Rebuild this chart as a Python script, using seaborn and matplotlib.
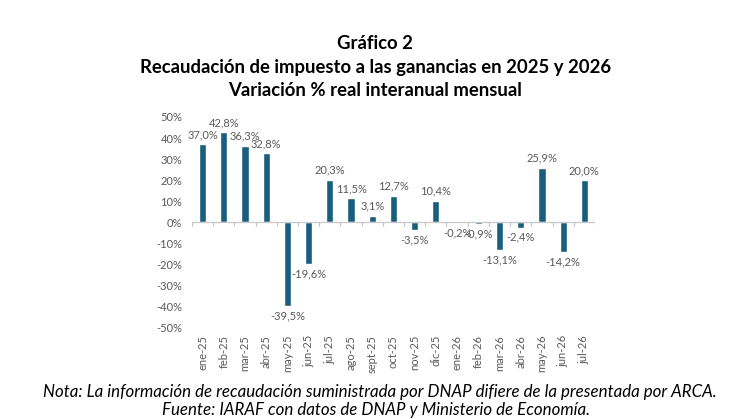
import numpy as np
import pandas as pd
import seaborn as sns
import matplotlib.pyplot as plt

# Data
months = ['ene-25', 'feb-25', 'mar-25', 'abr-25', 'may-25', 'jun-25', 'jul-25',
          'ago-25', 'sept-25', 'oct-25', 'nov-25', 'dic-25', 'ene-26', 'feb-26',
          'mar-26', 'abr-26', 'may-26', 'jun-26', 'jul-26']
variation = [37.0, 42.8, 36.3, 32.8, -39.5, -19.6, 20.3, 11.5, 3.1, 12.7, -3.5,
             10.4, -0.2, -0.9, -13.1, -2.4, 25.9, -14.2, 20.0]
yticks = [50, 40, 30, 20, 10, 0, -10, -20, -30, -40, -50]

title_lines = ['Gráfico 2',
               'Recaudación de impuesto a las ganancias en 2025 y 2026',
               'Variación % real interanual mensual']
notes = ['Nota: La información de recaudación suministrada por DNAP difiere de la presentada por ARCA.',
         'Fuente: IARAF con datos de DNAP y Ministerio de Economía.']

df = pd.DataFrame({'mes': months, 'var': variation})

sns.set_style('white')
plt.rcParams['font.family'] = ['Lato', 'DejaVu Sans']

bar_color = '#1a5e7e'
gray = '#595959'
line_gray = '#c8c8c8'

fig = plt.figure(figsize=(7.3, 4.19), dpi=100)
ax = fig.add_axes([0.263, 0.2172, 0.552, 0.5036])

sns.barplot(data=df, x='mes', y='var', color=bar_color, width=0.34,
            saturation=1, ax=ax)

ax.set_ylim(-50, 50)
ax.set_xlim(-0.5, len(months) - 0.5)
ax.set_yticks(yticks)
ax.set_yticklabels([f'{t}%' for t in yticks])
ax.set_xlabel('')
ax.set_ylabel('')
for s in ax.spines.values():
    s.set_visible(False)
ax.tick_params(axis='y', length=0, pad=7, labelsize=8, labelcolor=gray)
ax.tick_params(axis='x', length=0, pad=5, labelsize=8, labelcolor=gray,
               labelrotation=90)

labels = [f'{v:.1f}%'.replace('.', ',') for v in variation]
ax.bar_label(ax.containers[0], labels=labels, padding=3, fontsize=8, color=gray)

# zero line with category separators
ax.axhline(0, color=line_gray, lw=0.9, zorder=1)
ax.set_xticks(np.arange(-0.5, len(months)), minor=True)
ax.tick_params(axis='x', which='minor', length=0)
for b in np.arange(-0.5, len(months)):
    ax.plot([b, b], [0, -1.8], color=line_gray, lw=0.9, zorder=1)

ys = [0.897, 0.838, 0.783]
for line, y in zip(title_lines, ys):
    fig.text(0.514, y, line, ha='center', va='center', fontsize=13.3,
             fontweight='bold', color='black')

fig.text(0.52, 0.064, notes[0], ha='center', va='center', fontsize=12.2,
         style='italic', color='black')
fig.text(0.515, 0.021, notes[1], ha='center', va='center', fontsize=12.2,
         style='italic', color='black')

fig.savefig('out.png', dpi=100)
